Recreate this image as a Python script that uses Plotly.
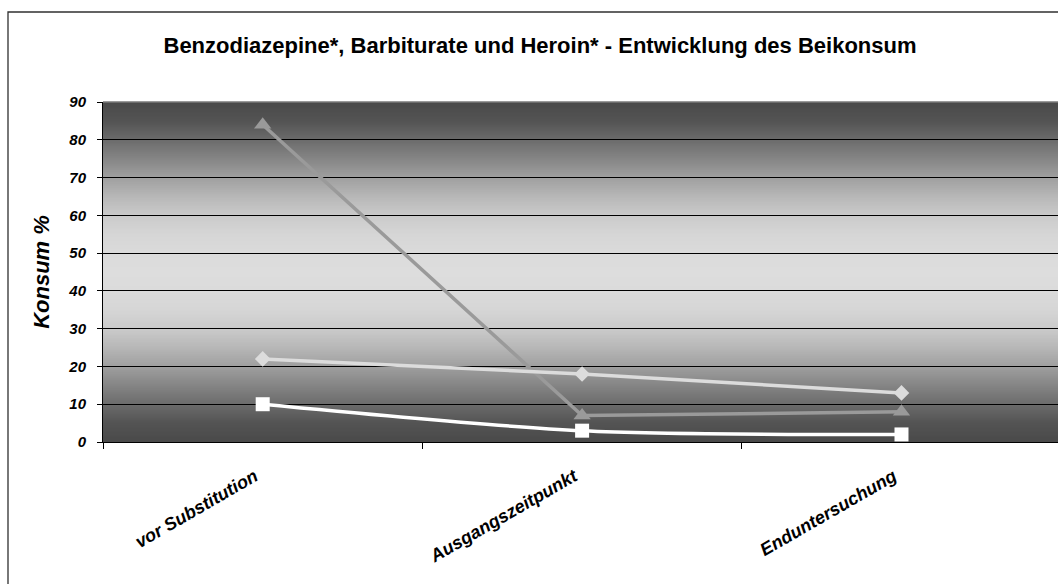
import base64, struct, zlib
import numpy as np
import plotly.graph_objects as go

categories = ["vor Substitution", "Ausgangszeitpunkt", "Enduntersuchung"]
benzodiazepine = [22, 18, 13]
barbiturate = [10, 3, 2]
heroin = [84, 7, 8]
y_ticks = [0, 10, 20, 30, 40, 50, 60, 70, 80, 90]

title_text = "Benzodiazepine*, Barbiturate und Heroin* - Entwicklung des Beikonsum"
y_title = "Konsum %"

FONT = "Arial, 'Liberation Sans', sans-serif"

# ---- background gradient (style only): dark at edges, light in the middle ----
def gradient_png(h=256):
    stops_t = [0.0, 0.055, 0.11, 0.167, 0.222, 0.278, 0.333, 0.389, 0.444, 0.5]
    stops_v = [74, 84, 108, 134, 160, 184, 203, 214, 219, 221]
    rows = []
    for i in range(h):
        t = i / (h - 1)
        d = min(t, 1 - t)
        v = int(round(np.interp(d, stops_t, stops_v)))
        rows.append(b"\x00" + bytes([v, v]))
    raw = b"".join(rows)
    def chunk(tag, data):
        c = struct.pack(">I", len(data)) + tag + data
        return c + struct.pack(">I", zlib.crc32(tag + data) & 0xFFFFFFFF)
    png = b"\x89PNG\r\n\x1a\n"
    png += chunk(b"IHDR", struct.pack(">IIBBBBB", 2, h, 8, 0, 0, 0, 0))
    png += chunk(b"IDAT", zlib.compress(raw))
    png += chunk(b"IEND", b"")
    return "data:image/png;base64," + base64.b64encode(png).decode()

fig = go.Figure()

fig.add_trace(go.Scatter(
    x=categories, y=heroin, mode="lines+markers", name="Heroin*",
    line=dict(color="#9a9a9a", width=3.5),
    marker=dict(symbol="triangle-up", size=15, color="#9a9a9a", line=dict(width=0)),
))
fig.add_trace(go.Scatter(
    x=categories, y=benzodiazepine, mode="lines+markers", name="Benzodiazepine*",
    line=dict(color="#dcdcdc", width=3.5),
    marker=dict(symbol="diamond", size=12, color="#dcdcdc", line=dict(width=0)),
))
fig.add_trace(go.Scatter(
    x=categories, y=barbiturate, mode="lines+markers", name="Barbiturate",
    line=dict(color="#ffffff", width=3.5, shape="spline", smoothing=0.8),
    marker=dict(symbol="square", size=14, color="#ffffff", line=dict(width=0)),
))

W, H = 1058, 584
L, R, T, B = 103, 0, 102, 142
pw, ph = W - L - R, H - T - B

fig.update_layout(
    width=W, height=H,
    margin=dict(l=L, r=R, t=T, b=B, pad=0),
    paper_bgcolor="white", plot_bgcolor="rgba(0,0,0,0)",
    showlegend=False,
    font=dict(family=FONT, color="black"),
    title=dict(text="<b>" + title_text + "</b>", x=540 / W, xanchor="center",
               y=1 - 45 / H, yanchor="middle", yref="container",
               font=dict(size=22, family=FONT, color="black")),
    images=[dict(source=gradient_png(), xref="x domain", yref="y domain",
                 x=0, y=1, sizex=1, sizey=1, sizing="stretch",
                 xanchor="left", yanchor="top", layer="below")],
    shapes=[
        # chart area border
        dict(type="rect", xref="paper", yref="paper",
             x0=(8 - L) / pw, x1=1.05, y0=-1.0, y1=(H - B - 12) / ph,
             line=dict(color="#303030", width=1.3), fillcolor="rgba(0,0,0,0)", layer="above"),
        # plot area top border
        dict(type="line", xref="x domain", yref="y domain", x0=0, x1=1, y0=1, y1=1,
             line=dict(color="#7a7a7a", width=1.5), layer="above"),
    ],
)

fig.update_xaxes(
    type="category", range=[-0.5, 2.49],
    showgrid=False, zeroline=False,
    showline=True, linecolor="black", linewidth=1,
    ticks="outside", tickson="boundaries", ticklen=6, tickcolor="black", tickwidth=1,
    tickangle=-30, ticklabelstandoff=16, ticklabelshift=-8,
    tickfont=dict(size=18, family=FONT, color="black", weight="bold", style="italic"),
)
fig.update_yaxes(
    range=[0, 90], tickvals=y_ticks, ticktext=[str(v) for v in y_ticks],
    showgrid=True, gridcolor="black", gridwidth=1,
    zeroline=False,
    showline=True, linecolor="black", linewidth=1,
    ticks="outside", ticklen=5, tickcolor="black", tickwidth=1,
    ticklabelstandoff=8,
    tickfont=dict(size=15, family=FONT, color="black", weight="bold", style="italic"),
    title=dict(text=y_title, standoff=12,
               font=dict(size=22, family=FONT, color="black", weight="bold", style="italic")),
)

fig.write_html("out.html",
               config={"displayModeBar": False},
               post_script="document.body.style.margin='0';document.body.style.overflow='hidden';")
